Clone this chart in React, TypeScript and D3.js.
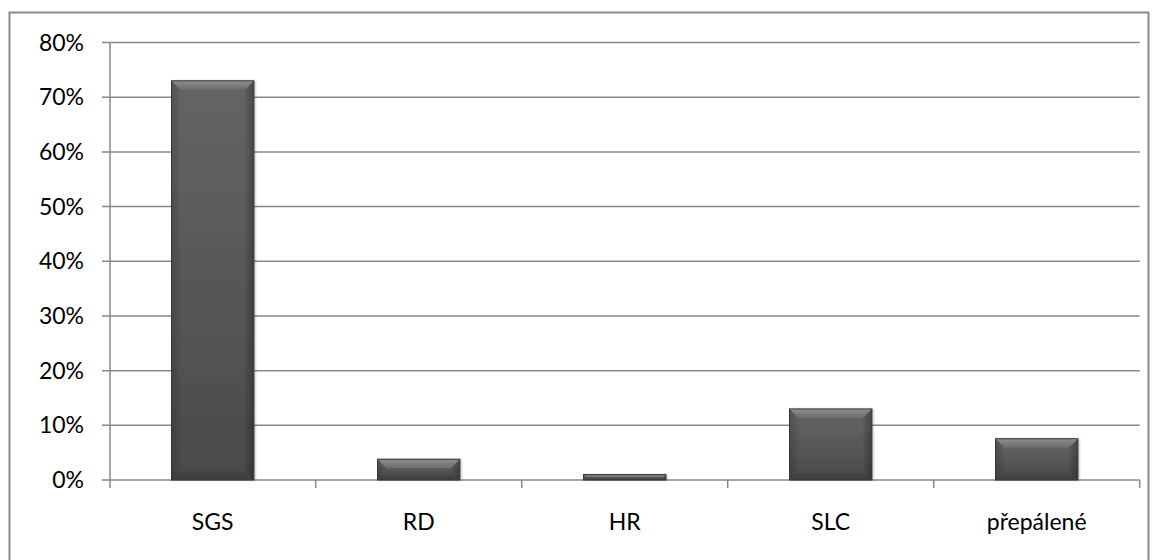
import React from "react";
import * as d3 from "d3";

const categories = ["SGS", "RD", "HR", "SLC", "přepálené"];
const values = [0.73, 0.038, 0.01, 0.13, 0.0755];
const yTicks = [0, 0.1, 0.2, 0.3, 0.4, 0.5, 0.6, 0.7, 0.8];

const W = 1157;
const H = 560;
const FONT = "Lato, 'Open Sans', 'Noto Sans', sans-serif";

export default function App() {
  const x = d3.scaleBand<string>().domain(categories).range([109.7, 1139.7]).paddingInner(0.6).paddingOuter(0.3);
  const band = d3.scaleBand<string>().domain(categories).range([109.7, 1139.7]);
  const y = d3.scaleLinear().domain([0, 0.8]).range([480, 42.5]);
  const fmt = d3.format(".0%");
  const gridColor = "#878787";

  return (
    <svg width={W} height={H} style={{ position: "absolute", left: 0, top: 0 }}>
      <defs>
        <linearGradient id="topB" x1="0" y1="0" x2="0" y2="1">
          <stop offset="0" stopColor="#8e8e8e" />
          <stop offset="1" stopColor="#6c6c6c" />
        </linearGradient>
        <linearGradient id="leftB" x1="0" y1="0" x2="1" y2="0">
          <stop offset="0" stopColor="#000" stopOpacity={0.18} />
          <stop offset="1" stopColor="#000" stopOpacity={0.02} />
        </linearGradient>
        <linearGradient id="rightB" x1="0" y1="0" x2="1" y2="0">
          <stop offset="0" stopColor="#000" stopOpacity={0.04} />
          <stop offset="1" stopColor="#000" stopOpacity={0.28} />
        </linearGradient>
        <linearGradient id="botB" x1="0" y1="0" x2="0" y2="1">
          <stop offset="0" stopColor="#000" stopOpacity={0.05} />
          <stop offset="1" stopColor="#000" stopOpacity={0.15} />
        </linearGradient>
        <linearGradient id="face" x1="0" y1="0" x2="0" y2="1">
          <stop offset="0" stopColor="#656565" />
          <stop offset="1" stopColor="#4a4a4a" />
        </linearGradient>
        <filter id="sh" x="-10%" y="-10%" width="130%" height="120%">
          <feDropShadow dx="1.5" dy="0" stdDeviation="1.2" floodColor="#000" floodOpacity="0.25" />
        </filter>
      </defs>
      <rect x={0} y={0} width={W} height={H} fill="#fff" />
      <rect x={9.5} y={12.5} width={1139} height={560} fill="none" stroke="#8a8a8a" strokeWidth={2} />
      {yTicks.map((t) => (
        <g key={t}>
          <line x1={102} x2={1139.7} y1={y(t)} y2={y(t)} stroke={gridColor} strokeWidth={1.5} />
          <text x={84} y={y(t)} dy="0.35em" textAnchor="end" fontFamily={FONT} fontSize={23} fill="#000">
            {fmt(t)}
          </text>
        </g>
      ))}
      <line x1={110} x2={110} y1={y(0.8)} y2={y(0)} stroke={gridColor} strokeWidth={1.5} />
      {categories.map((c, i) => (
        <line key={"t" + i} x1={(band(c) as number) + band.bandwidth()} x2={(band(c) as number) + band.bandwidth()} y1={480} y2={488} stroke={gridColor} strokeWidth={1.5} />
      ))}
      <line x1={110} x2={110} y1={480} y2={488} stroke={gridColor} strokeWidth={1.5} />
      {categories.map((c, i) => {
        const x0 = x(c) as number;
        const w = x.bandwidth();
        const y0 = y(values[i]);
        const h = y(0) - y0;
        const b = Math.min(9, h / 2, w / 2);
        const x1 = x0 + w;
        const y1 = y(0);
        return (
          <g key={c}>
            <rect x={x0} y={y0} width={w} height={h} fill="url(#face)" filter="url(#sh)" />
            <polygon points={`${x0},${y0} ${x1},${y0} ${x1 - b},${y0 + b} ${x0 + b},${y0 + b}`} fill="url(#topB)" />
            <polygon points={`${x0},${y0} ${x0 + b},${y0 + b} ${x0 + b},${y1 - b} ${x0},${y1}`} fill="url(#leftB)" />
            <polygon points={`${x1},${y0} ${x1 - b},${y0 + b} ${x1 - b},${y1 - b} ${x1},${y1}`} fill="url(#rightB)" />
            <polygon points={`${x0},${y1} ${x0 + b},${y1 - b} ${x1 - b},${y1 - b} ${x1},${y1}`} fill="url(#botB)" />
            <rect x={x0} y={y0} width={w} height={h} fill="none" stroke="#383838" strokeWidth={1} />
          </g>
        );
      })}
      {categories.map((c) => (
        <text key={"l" + c} x={(band(c) as number) + band.bandwidth() / 2} y={522} dy="0.35em" textAnchor="middle" fontFamily={FONT} fontSize={23} fill="#000">
          {c}
        </text>
      ))}
    </svg>
  );
}
